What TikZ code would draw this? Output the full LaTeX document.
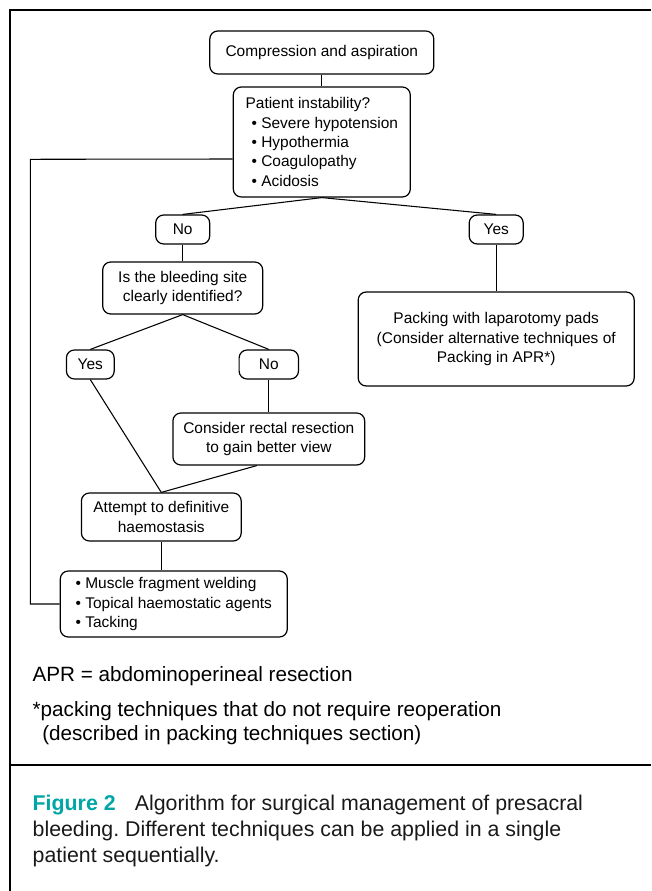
\documentclass[tikz,border=0pt]{standalone}
\usepackage{fontspec}
\setmainfont{Liberation Sans}
\definecolor{figteal}{RGB}{0,166,166}
\frenchspacing

\begin{document}
\begin{tikzpicture}[x=0.75pt,y=-0.75pt]
\tikzstyle{box}=[draw, rounded corners=6pt, line width=0.9pt, align=center, inner sep=0pt, font=\fontsize{11.6}{14.5}\selectfont]
\tikzstyle{listbox}=[box, align=left]
\tikzstyle{every edge}=[draw, line width=0.8pt]
\tikzstyle{note}=[anchor=base west, inner sep=0pt, font=\fontsize{15.5}{18}\selectfont]
\tikzstyle{caption}=[anchor=base west, inner sep=0pt, text=black!90, font=\fontsize{16}{19.5}\selectfont]

\useasboundingbox (0,0) rectangle (651,891);
\draw[line width=1.6pt] (651,10) -- (10,10) -- (10,891);
\draw[line width=1.6pt] (10,765) -- (651,765);

\node[box, minimum width=168pt, minimum height=32.25pt] at (321.8,52.5) (comp) {Compression and aspiration};
\node[listbox, minimum width=132.75pt, minimum height=82.5pt] at (321.8,142) (instab)
  {Patient instability?\\\hspace{4.5pt}\textbullet\ Severe hypotension\\\hspace{4.5pt}\textbullet\ Hypothermia\\\hspace{4.5pt}\textbullet\ Coagulopathy\\\hspace{4.5pt}\textbullet\ Acidosis};
\node[box, minimum width=40.5pt, minimum height=21.75pt] at (182.7,229.5) (no1) {No};
\node[box, minimum width=40.5pt, minimum height=21.75pt] at (496.2,229.5) (yes1) {Yes};
\node[box, minimum width=120pt, minimum height=39pt] at (182.7,288) (site) {Is the bleeding site\\clearly identified?};
\node[box, minimum width=207pt, minimum height=70.5pt] at (496.2,339) (pack)
  {Packing with laparotomy pads\\(Consider alternative techniques of\\Packing in APR*)};
\node[box, minimum width=35.85pt, minimum height=21.75pt] at (90.3,364.5) (yes2) {Yes};
\node[box, minimum width=44.55pt, minimum height=21.75pt] at (268.8,364.5) (no2) {No};
\node[box, minimum width=143.85pt, minimum height=39pt] at (268.8,439) (resect) {Consider rectal resection\\to gain better view};
\node[box, minimum width=119.85pt, minimum height=36pt] at (161.3,517) (attempt) {Attempt to definitive\\haemostasis};
\node[listbox, minimum width=170.25pt, minimum height=49.5pt] at (173.8,604) (agents)
  {\textbullet\ Muscle fragment welding\\\textbullet\ Topical haemostatic agents\\\textbullet\ Tacking};
\coordinate (bend) at (30.3,159.3);

\draw (comp) edge (instab);
\draw (instab.south) edge (no1.north) edge (yes1.north);
\draw (no1) edge (site);
\draw (yes1) edge (pack);
\draw (site.south) edge (yes2.north) edge (no2.north);
\draw (no2) edge (resect);
\draw (yes2.south) edge (attempt.north);
\draw ([xshift=-9pt]resect.south) edge (attempt.north);
\draw (attempt) edge (attempt |- agents.north);
\draw[line width=0.8pt] ([yshift=-12.75pt]instab.west) -- (bend) |- (agents.west);

\node[note] at (32.4,681) (abbr) {APR = abdominoperineal resection};
\node[note] at (32.4,716.7) (star) {*packing techniques that do not require reoperation};
\node[note] at (42,740.7) (starb) {(described in packing techniques section)};

\node[caption] at (32.4,810) (cap1) {\textcolor{figteal}{\bfseries Figure 2}\hspace{0.9em}Algorithm for surgical management of presacral};
\node[caption] at (32.4,836) (cap2) {bleeding. Different techniques can be applied in a single};
\node[caption] at (32.4,862) (cap3) {patient sequentially.};
\end{tikzpicture}
\end{document}
